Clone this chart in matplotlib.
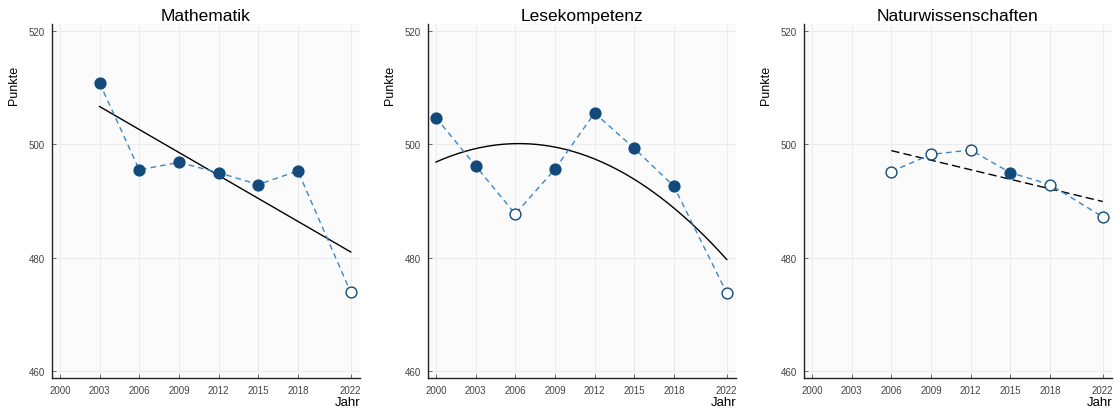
import numpy as np
from matplotlib import pyplot as plt

plt.rcParams['font.family'] = ['Liberation Sans', 'DejaVu Sans']

# ---------------------------------------------- #
# Data
# ---------------------------------------------- #
titles = ['Mathematik', 'Lesekompetenz', 'Naturwissenschaften']

math_years = [2003, 2006, 2009, 2012, 2015, 2018, 2022]
math_vals = [510.8, 495.5, 496.8, 495.0, 492.9, 495.3, 473.9]
math_filled = [True, True, True, True, True, True, False]

read_years = [2000, 2003, 2006, 2009, 2012, 2015, 2018, 2022]
read_vals = [504.7, 496.2, 487.7, 495.6, 505.5, 499.3, 492.6, 473.8]
read_filled = [True, True, False, True, True, True, True, False]

sci_years = [2006, 2009, 2012, 2015, 2018, 2022]
sci_vals = [495.2, 498.2, 499.0, 495.0, 492.9, 487.2]
sci_filled = [False, False, False, True, False, False]

# trend: polynomial degree and line style per panel
fit_deg = [1, 2, 1]
fit_style = ['-', '-', (0, (6, 3))]

xticks = [2000, 2003, 2006, 2009, 2012, 2015, 2018, 2022]
yticks = [460, 480, 500, 520]

series = [(math_years, math_vals, math_filled),
          (read_years, read_vals, read_filled),
          (sci_years, sci_vals, sci_filled)]

line_col = '#3a87c8'
mark_col = '#124a7c'

# ---------------------------------------------- #
# Plot
# ---------------------------------------------- #
fig = plt.figure(figsize=(11.2, 4.1), dpi=100)
lefts = [52, 428, 804]
for i, (yrs, vals, filled) in enumerate(series):
    ax = fig.add_axes([lefts[i] / 1120, 31 / 410, 308 / 1120, 354 / 410])
    ax.set_facecolor('#fbfbfb')
    yrs = np.array(yrs)
    vals = np.array(vals)
    filled = np.array(filled)

    # trend fit
    coef = np.polyfit(yrs, vals, fit_deg[i])
    xf = np.linspace(yrs.min(), yrs.max(), 200)
    ax.plot(xf, np.polyval(coef, xf), color='black', lw=1.0, ls=fit_style[i], zorder=2)

    ax.plot(yrs, vals, color=line_col, lw=1.0, ls=(0, (4, 3)), zorder=3)
    ax.plot(yrs[filled], vals[filled], 'o', ms=7.8, color=mark_col, mec=mark_col, zorder=4)
    ax.plot(yrs[~filled], vals[~filled], 'o', ms=7.8, mfc='white', mec=mark_col, mew=1.0, zorder=4)

    ax.set_xlim(1999.4, 2022.7)
    ax.set_ylim(458.8, 521.2)
    ax.set_xticks(xticks)
    ax.set_yticks(yticks)
    ax.grid(True, color='#ececec', lw=0.8)
    ax.set_axisbelow(True)
    for s in ['top', 'right']:
        ax.spines[s].set_visible(False)
    for s in ['left', 'bottom']:
        ax.spines[s].set_color('#222222')
        ax.spines[s].set_linewidth(1.0)
    ax.tick_params(direction='in', length=3, width=0.6, color='#555555',
                   labelsize=7, labelcolor='#444444', pad=5)

    ax.set_title(titles[i], fontsize=12.5, pad=3)
    ax.set_xlabel('Jahr', fontsize=9.5, va='center', ha='right')
    ax.xaxis.set_label_coords(1.0, -0.068)
    ax.set_ylabel('Punkte', fontsize=9)
    ax.yaxis.set_label_coords(-0.104, 0.83)

plt.savefig('out.png')
